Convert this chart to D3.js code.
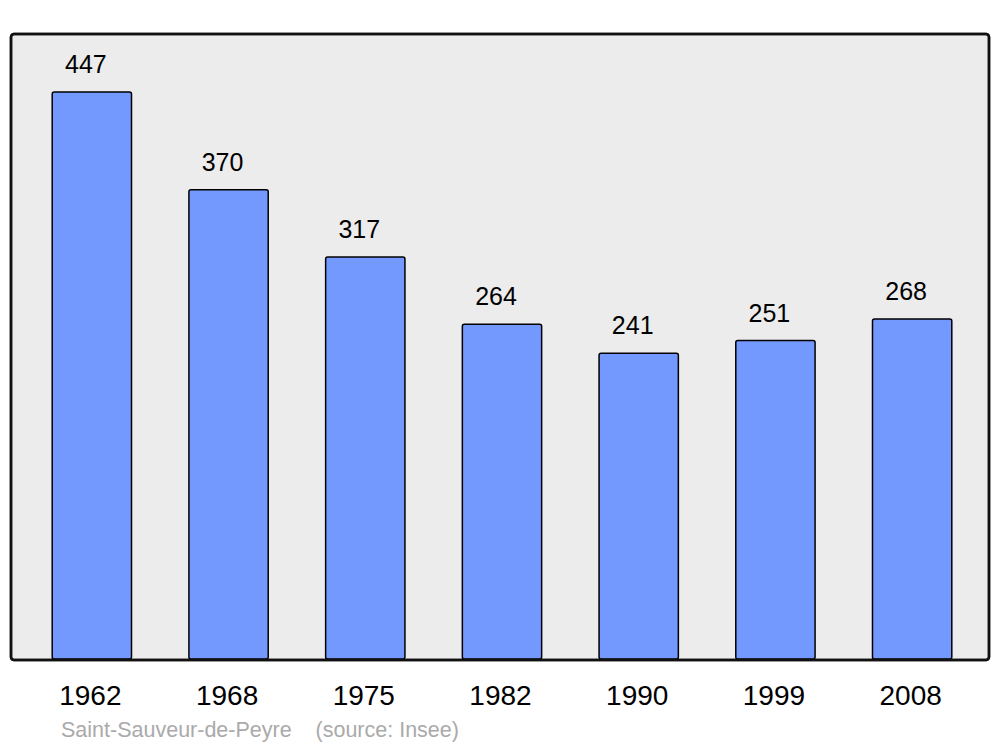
<!DOCTYPE html>
<html><head><meta charset="utf-8">
<script src="https://cdn.jsdelivr.net/npm/d3@7"></script>
<style>body{margin:0;background:#fff}svg{display:block}text{font-family:"Liberation Sans",Arial,sans-serif}</style>
</head><body>
<script>
const years = ["1962","1968","1975","1982","1990","1999","2008"];
const population = [447,370,317,264,241,251,268];
const commune = "Saint-Sauveur-de-Peyre";
const source = "(source: Insee)";

const W=1000,H=747;
const svg=d3.select("body").append("svg").attr("width",W).attr("height",H);
const frame={x0:11,x1:989,y0:34,y1:660};
svg.append("rect").attr("x",frame.x0).attr("y",frame.y0).attr("width",frame.x1-frame.x0).attr("height",frame.y1-frame.y0)
  .attr("rx",3).attr("fill","#ececec").attr("stroke","#111").attr("stroke-width",2.5);

const x=d3.scaleBand().domain(years).range([23.5,980.5]).paddingInner(0.42).paddingOuter(0.21);
const y=d3.scaleLinear().domain([0,447]).range([659,92]);

svg.selectAll("rect.bar").data(population).enter().append("rect").attr("class","bar")
  .attr("x",(d,i)=>x(years[i])).attr("width",x.bandwidth())
  .attr("y",d=>y(d)).attr("height",d=>y(0)-y(d))
  .attr("rx",2).attr("fill","#7399ff").attr("stroke","#000").attr("stroke-width",1.5);

svg.selectAll("text.val").data(population).enter().append("text").attr("class","val")
  .attr("x",(d,i)=>x(years[i])+x.bandwidth()/2-6).attr("y",d=>y(d)-19)
  .attr("text-anchor","middle").attr("font-size",25).attr("fill","#000").text(d=>d);

// frame border on top of bars
svg.append("rect").attr("x",frame.x0).attr("y",frame.y0).attr("width",frame.x1-frame.x0).attr("height",frame.y1-frame.y0)
  .attr("rx",3).attr("fill","none").attr("stroke","#111").attr("stroke-width",2.5);

svg.selectAll("text.yr").data(years).enter().append("text").attr("class","yr")
  .attr("x",d=>x(d)+x.bandwidth()/2-1.5).attr("y",705)
  .attr("text-anchor","middle").attr("font-size",28).attr("fill","#000").text(d=>d);

svg.append("text").attr("x",61).attr("y",737).attr("font-size",21.5).attr("fill","#aaa")
  .attr("xml:space","preserve").text(commune+"    "+source);
</script>
</body></html>
